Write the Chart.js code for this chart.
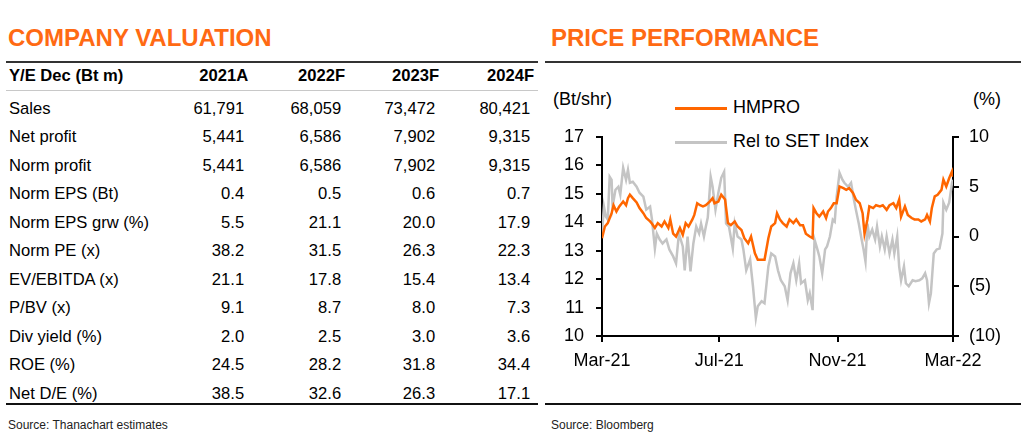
<!DOCTYPE html>
<html>
<head>
<meta charset="utf-8">
<script src="https://cdn.jsdelivr.net/npm/chart.js@4.4.1/dist/chart.umd.min.js"></script>
<style>
  body { margin: 0; width: 1024px; height: 435px; background: #fff; position: relative; overflow: hidden;
         font-family: "Liberation Sans", Arial, sans-serif; color: #000; }
  .title { position: absolute; top: 24px; font-size: 24px; font-weight: bold; color: #FF6A13; white-space: nowrap; }
  .rule { position: absolute; height: 0; }
  .source { position: absolute; top: 418px; font-size: 12px; color: #222; white-space: nowrap; }
  table { position: absolute; left: 8px; top: 62px; border-collapse: collapse; table-layout: fixed; font-size: 16.6px; }
  th, td { padding: 0; white-space: nowrap; }
  th { height: 28px; font-weight: bold; text-align: right; }
  th:first-child, td:first-child { text-align: left; padding-left: 1px; }
  th span { position: relative; left: 4px; }
  td { height: 28.5px; text-align: right; }
  tr.gap td { height: 4.5px; }
  .unit { position: absolute; top: 89px; font-size: 18px; }
  #legend { position: absolute; left: 675px; top: 97px; font-size: 18px; }
  #legend div { height: 34px; display: flex; align-items: flex-start; }
  #legend i { display: inline-block; width: 52px; height: 3px; margin: 10px 6px 0 0; }
  #box { position: absolute; left: 540px; top: 65px; width: 480px; height: 310px; }
</style>
</head>
<body>
<div class="title" style="left:8px">COMPANY VALUATION</div>
<div class="title" style="left:551px">PRICE PERFORMANCE</div>

<div class="rule" style="left:6px;top:61px;width:532px;border-top:2px solid #333"></div>
<div class="rule" style="left:6px;top:90px;width:532px;border-top:1px solid #c8c8c8"></div>
<div class="rule" style="left:6px;top:403px;width:532px;border-top:2px solid #111"></div>
<div class="rule" style="left:545px;top:61px;width:476px;border-top:2px solid #333"></div>
<div class="rule" style="left:545px;top:403px;width:476px;border-top:2px solid #111"></div>

<table id="val">
  <colgroup><col style="width:139px"><col style="width:95px"><col style="width:97px"><col style="width:94px"><col style="width:95px"></colgroup>
  <thead><tr id="head"></tr></thead>
  <tbody id="rows"></tbody>
</table>

<div class="source" style="left:8px">Source: Thanachart estimates</div>
<div class="source" style="left:551px">Source: Bloomberg</div>

<div class="unit" style="left:553px">(Bt/shr)</div>
<div class="unit" style="left:973px">(%)</div>
<div id="legend"></div>
<div id="box"><canvas id="priceChart"></canvas></div>

<script>
// Company valuation table
const years = ['2021A', '2022F', '2023F', '2024F'];
const rowLabels = ['Sales', 'Net profit', 'Norm profit', 'Norm EPS (Bt)', 'Norm EPS grw (%)', 'Norm PE (x)',
  'EV/EBITDA (x)', 'P/BV (x)', 'Div yield (%)', 'ROE (%)', 'Net D/E (%)'];
const val2021 = ['61,791', '5,441', '5,441', '0.4', '5.5', '38.2', '21.1', '9.1', '2.0', '24.5', '38.5'];
const val2022 = ['68,059', '6,586', '6,586', '0.5', '21.1', '31.5', '17.8', '8.7', '2.5', '28.2', '32.6'];
const val2023 = ['73,472', '7,902', '7,902', '0.6', '20.0', '26.3', '15.4', '8.0', '3.0', '31.8', '26.3'];
const val2024 = ['80,421', '9,315', '9,315', '0.7', '17.9', '22.3', '13.4', '7.3', '3.6', '34.4', '17.1'];

// Price performance (x = days from 1 Mar 2021)
const tickDays = [0, 122, 245, 365];
const tickLabels = ['Mar-21', 'Jul-21', 'Nov-21', 'Mar-22'];

const hmproDays = [0,3,6,10,12,15,18,22,25,27,29,32,36,39,43,46,50,52,55,58,62,65,69,71,74,77,81,84,87,90,
  94,96,99,102,105,108,112,115,117,121,124,128,131,134,138,141,145,148,152,155,159,162,166,169,173,176,180,182,185,188,
  192,195,199,202,206,209,212,216,219,220,223,226,230,233,235,238,241,244,247,251,254,257,261,264,268,271,273,276,278,282,
  285,289,292,296,299,303,306,309,311,315,318,322,325,329,332,336,338,341,343,346,349,353,355,358,361,364,365];
const hmproPx = [13.44,13.85,13.97,14.32,14.6,14.38,14.56,14.73,14.6,14.85,14.97,14.85,14.7,14.5,14.32,14.15,14.03,13.95,13.8,13.97,
  13.85,14.03,13.8,14.1,13.6,13.5,13.8,13.56,13.97,13.85,14.1,14.26,14.67,14.6,14.56,14.6,14.73,14.85,14.67,14.73,
  14.97,14.8,13.97,13.9,14.03,13.85,13.73,13.44,13.26,13.5,12.91,12.68,12.68,12.68,13.44,13.85,13.97,14.32,14.1,13.97,
  13.85,14.1,13.97,14.1,13.9,13.9,13.6,13.5,13.44,14.5,14.32,14.2,14.38,14.15,14.38,14.5,14.67,14.67,15.26,15.2,
  15.14,15.2,15.03,14.8,14.67,14.32,13.6,14.1,14.56,14.5,14.6,14.56,14.6,14.44,14.6,14.67,14.5,14.8,14.2,14.56,
  14.26,14.15,14.1,14.1,14.03,14.1,14.26,14.03,14.5,14.91,14.97,15.14,15.5,15.26,15.55,15.79,15.6];

const relDays = [0,2,4,6,8,10,11,14,17,19,22,25,27,29,32,36,39,43,46,50,52,55,57,60,63,67,70,74,77,80,
  84,86,89,92,95,98,101,103,106,108,110,113,115,118,121,124,127,129,132,136,138,141,145,147,150,154,157,160,162,166,
  169,173,176,180,183,186,190,193,196,199,202,205,207,211,214,216,219,221,224,226,229,232,234,237,240,242,244,247,250,252,
  256,259,262,264,267,270,272,274,276,278,281,284,286,289,291,294,296,299,302,304,307,309,311,314,316,319,323,326,330,333,
  336,338,340,342,345,348,351,354,355,358,361,364,365];
const relSet = [0.3,3.0,2.0,1.7,6.0,5.7,3.0,4.7,5.0,4.2,6.9,5.7,6.7,5.4,5.5,5.0,4.4,4.0,2.7,3.0,
  1.7,-1.2,0.3,-0.3,-0.7,-0.3,-1.3,-2.0,-2.7,0.3,-1.0,-3.4,0.0,-3.5,-0.7,1.0,0.3,1.3,0.0,1.0,
  1.9,6.0,5.0,2.7,4.4,5.9,6.5,1.3,1.0,-1.2,1.3,0.0,-0.3,-1.3,-3.4,-2.3,-5.0,-8.2,-7.0,-6.5,
  -6.7,-3.0,-1.7,-2.0,-3.4,-4.4,-5.0,-6.4,-3.7,-2.7,-4.4,-2.7,-4.7,-4.4,-6.4,-5.7,-7.4,-0.3,-1.3,-2.0,
  -3.7,-1.3,-1.0,0.0,1.7,1.5,4.0,6.4,5.7,5.4,5.0,5.4,3.7,2.7,1.3,-0.3,-1.3,-2.5,1.3,0.0,
  0.7,-0.3,1.0,-1.0,0.0,-1.3,0.0,-1.7,-0.3,-1.7,0.0,-3.0,-4.4,-3.0,-4.7,-5.0,-4.4,-4.5,-4.4,-4.2,
  -3.7,-4.4,-6.7,-5.7,-1.7,-1.3,-1.2,0.3,3.4,2.7,3.4,5.4,5.7];

// build table
const head = document.getElementById('head');
head.innerHTML = '<th>Y/E Dec (Bt m)</th>' + years.map(y => `<th><span>${y}</span></th>`).join('');
const cols = [val2021, val2022, val2023, val2024];
let html = '<tr class="gap"><td></td><td></td><td></td><td></td><td></td></tr>';
rowLabels.forEach((lab, i) => {
  html += `<tr><td>${lab}</td>` + cols.map(c => `<td>${c[i]}</td>`).join('') + '</tr>';
});
document.getElementById('rows').innerHTML = html;

const fnt = { family: '"Liberation Sans", Arial, sans-serif', size: 18 };
const axisGrid = { display: true, drawOnChartArea: false, drawTicks: true, tickLength: 6, color: '#000', lineWidth: 2 };
const axisBorder = { display: true, color: '#000', width: 2 };

const ctx = document.getElementById('priceChart').getContext('2d');
const chart = new Chart(ctx, {
  type: 'line',
  data: {
    datasets: [{
      label: 'HMPRO',
      data: hmproDays.map((d, i) => ({ x: d, y: hmproPx[i] })),
      borderColor: '#FF6600',
      borderWidth: 2.5,
      pointRadius: 0,
      yAxisID: 'y'
    }, {
      label: 'Rel to SET Index',
      data: relDays.map((d, i) => ({ x: d, y: relSet[i] })),
      borderColor: '#C4C4C4',
      borderWidth: 2.5,
      pointRadius: 0,
      yAxisID: 'y1'
    }]
  },
  options: {
    responsive: true,
    maintainAspectRatio: false,
    animation: false,
    layout: { padding: { top: 72, left: 0, right: 0, bottom: 0 } },
    plugins: { legend: { display: false }, tooltip: { enabled: false } },
    scales: {
      x: {
        type: 'linear', min: 0, max: 365,
        afterBuildTicks: s => { s.ticks = tickDays.map(v => ({ value: v })); },
        afterFit: s => { s.height = 39; },
        ticks: { font: fnt, color: '#000', padding: 8, maxRotation: 0, autoSkip: false,
                 callback: (v, i) => tickLabels[i] },
        grid: axisGrid, border: axisBorder
      },
      y: {
        position: 'left', min: 10, max: 17,
        afterFit: s => { s.width = 62; },
        ticks: { stepSize: 1, font: fnt, color: '#000', padding: 12 },
        grid: axisGrid, border: axisBorder
      },
      y1: {
        position: 'right', min: -10, max: 10,
        afterFit: s => { s.width = 67; },
        ticks: { stepSize: 5, font: fnt, color: '#000', padding: 10,
                 callback: v => v < 0 ? '(' + (-v) + ')' : String(v) },
        grid: axisGrid, border: axisBorder
      }
    }
  }
});

// legend as html, from the datasets
document.getElementById('legend').innerHTML = chart.data.datasets
  .map(ds => `<div><i style="background:${ds.borderColor}"></i><span>${ds.label}</span></div>`).join('');
</script>
</body>
</html>
